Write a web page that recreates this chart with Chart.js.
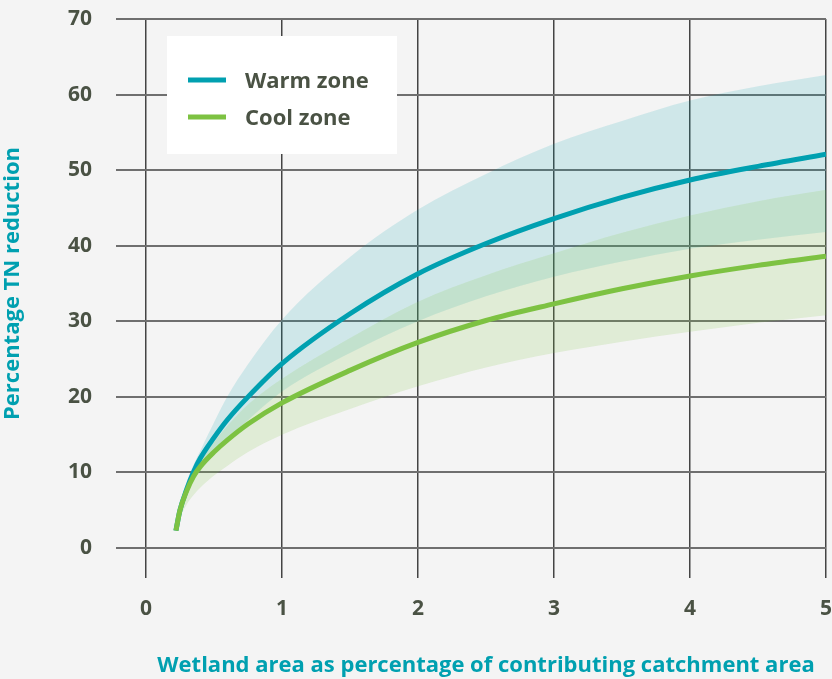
<!DOCTYPE html>
<html>
<head>
<meta charset="utf-8">
<title>TN reduction vs wetland area</title>
<script src="https://cdn.jsdelivr.net/npm/chart.js@4.4.1/dist/chart.umd.min.js"></script>
<style>
  html, body { margin: 0; padding: 0; background: #f4f4f4; overflow: hidden; }
  #wrap { width: 832px; height: 679px; position: relative; }
  canvas { display: block; }
</style>
</head>
<body>
<div id="wrap"><canvas id="chart" width="832" height="679"></canvas></div>
<script>
// Wetland area as % of contributing catchment area
const areaPct = [0.22, 0.25, 0.3, 0.35, 0.4, 0.5, 0.6, 0.75, 1, 1.5, 2, 2.5, 3, 3.5, 4, 4.5, 5];

// Warm zone: fitted TN reduction (%) and its uncertainty band
const warmMean = [2.3, 5.0, 7.8, 10.1, 11.9, 14.6, 17.0, 20.0, 24.4, 31.0, 36.3, 40.3, 43.6, 46.4, 48.7, 50.5, 52.1];
const warmLow  = [2.3, 4.8, 7.2, 8.9, 10.2, 12.3, 14.2, 16.9, 20.7, 25.8, 30.0, 33.3, 35.9, 37.9, 39.6, 40.8, 41.8];
const warmHigh = [2.3, 5.6, 8.8, 11.0, 12.9, 16.6, 20.1, 24.3, 30.2, 38.5, 44.8, 49.5, 53.5, 56.5, 59.2, 61.1, 62.6];

// Cool zone: fitted TN reduction (%) and its uncertainty band
const coolMean = [2.3, 5.0, 7.6, 9.5, 10.8, 12.7, 14.3, 16.4, 19.2, 23.5, 27.2, 30.1, 32.3, 34.3, 36.0, 37.4, 38.6];
const coolLow  = [2.3, 4.0, 5.8, 7.0, 8.0, 9.6, 10.9, 12.7, 15.0, 18.4, 21.4, 23.9, 25.8, 27.3, 28.6, 29.8, 30.8];
const coolHigh = [2.3, 5.6, 8.4, 10.3, 11.7, 14.0, 16.2, 19.0, 22.4, 27.8, 32.6, 36.1, 39.0, 41.7, 44.0, 45.9, 47.4];

// Axis ticks
const xTicks = [0, 1, 2, 3, 4, 5];
const yTicks = [0, 10, 20, 30, 40, 50, 60, 70];

const TEAL = '#00a0b0';
const GREEN = '#7dc242';
const TEXT = '#4a5244';
const FONT = '"Open Sans", "DejaVu Sans", sans-serif';

const toPoints = ys => areaPct.map((x, i) => ({ x, y: ys[i] }));

// White key box inside the plot, listing the fitted curves
const keyBox = {
  id: 'keyBox',
  afterDatasetsDraw(chart, args, opts) {
    const { ctx, chartArea } = chart;
    const x0 = chartArea.left + opts.offsetX;
    const y0 = chartArea.top + opts.offsetY;
    ctx.save();
    ctx.fillStyle = '#ffffff';
    ctx.fillRect(x0, y0, opts.width, opts.height);
    const items = chart.data.datasets.filter(d => d.inKey);
    items.forEach((d, i) => {
      const cy = y0 + opts.firstRow + i * opts.rowGap;
      ctx.strokeStyle = d.borderColor;
      ctx.lineWidth = 5;
      ctx.beginPath();
      ctx.moveTo(x0 + opts.lineStart, cy);
      ctx.lineTo(x0 + opts.lineStart + opts.lineLen, cy);
      ctx.stroke();
      ctx.fillStyle = TEXT;
      ctx.font = 'bold 22px ' + FONT;
      ctx.textBaseline = 'middle';
      ctx.textAlign = 'left';
      ctx.fillText(d.label, x0 + opts.textStart, cy + 2);
    });
    ctx.restore();
  }
};

const bandStyle = {
  pointRadius: 0,
  borderWidth: 0,
  cubicInterpolationMode: 'monotone'
};

new Chart(document.getElementById('chart'), {
  type: 'line',
  data: {
    datasets: [
      { label: 'Warm zone upper', data: toPoints(warmHigh), fill: '+1',
        backgroundColor: 'rgba(0,160,176,0.15)', borderColor: 'rgba(0,0,0,0)', order: 3, ...bandStyle },
      { label: 'Warm zone lower', data: toPoints(warmLow), fill: false,
        borderColor: 'rgba(0,0,0,0)', order: 3, ...bandStyle },
      { label: 'Cool zone upper', data: toPoints(coolHigh), fill: '+1',
        backgroundColor: 'rgba(125,194,66,0.17)', borderColor: 'rgba(0,0,0,0)', order: 2, ...bandStyle },
      { label: 'Cool zone lower', data: toPoints(coolLow), fill: false,
        borderColor: 'rgba(0,0,0,0)', order: 2, ...bandStyle },
      { label: 'Warm zone', data: toPoints(warmMean), fill: false, inKey: true,
        borderColor: TEAL, borderWidth: 5, pointRadius: 0, order: 1,
        cubicInterpolationMode: 'monotone', borderCapStyle: 'butt' },
      { label: 'Cool zone', data: toPoints(coolMean), fill: false, inKey: true,
        borderColor: GREEN, borderWidth: 5, pointRadius: 0, order: 0,
        cubicInterpolationMode: 'monotone', borderCapStyle: 'butt' }
    ]
  },
  options: {
    responsive: false,
    animation: false,
    events: [],
    layout: { padding: { top: 19, right: 6, left: 0, bottom: 0 } },
    plugins: {
      legend: { display: false },
      tooltip: { enabled: false },
      keyBox: { offsetX: 21, offsetY: 17, width: 230, height: 118,
                firstRow: 44, rowGap: 37, lineStart: 21, lineLen: 38, textStart: 78 }
    },
    scales: {
      x: {
        type: 'linear',
        min: 0, max: 5,
        afterBuildTicks: s => { s.ticks = xTicks.map(v => ({ value: v })); },
        afterFit: s => { s.height = 131; s.paddingLeft = 0; s.paddingRight = 0; },
        border: { display: false },
        grid: { color: '#444444', lineWidth: 1.5, tickLength: 30, tickColor: '#444444' },
        ticks: { color: TEXT, font: { family: FONT, size: 21, weight: 'bold' }, padding: 18, maxRotation: 0 },
        title: { display: true, text: 'Wetland area as percentage of contributing catchment area',
                 color: TEAL, font: { family: FONT, size: 22, weight: 'bold' }, padding: { top: 16, bottom: 0 } }
      },
      y: {
        min: 0, max: 70,
        afterBuildTicks: s => { s.ticks = yTicks.map(v => ({ value: v })); },
        afterFit: s => { s.width = 146; s.paddingTop = 0; s.paddingBottom = 0; },
        border: { display: false },
        grid: { color: '#6f6f6f', lineWidth: 2, tickLength: 30, tickColor: '#6f6f6f' },
        ticks: { color: TEXT, font: { family: FONT, size: 21, weight: 'bold' }, padding: 24 },
        title: { display: true, text: 'Percentage TN reduction',
                 color: TEAL, font: { family: FONT, size: 22, weight: 'bold' }, padding: { top: 0, bottom: 0 } }
      }
    }
  },
  plugins: [keyBox]
});
</script>
</body>
</html>
